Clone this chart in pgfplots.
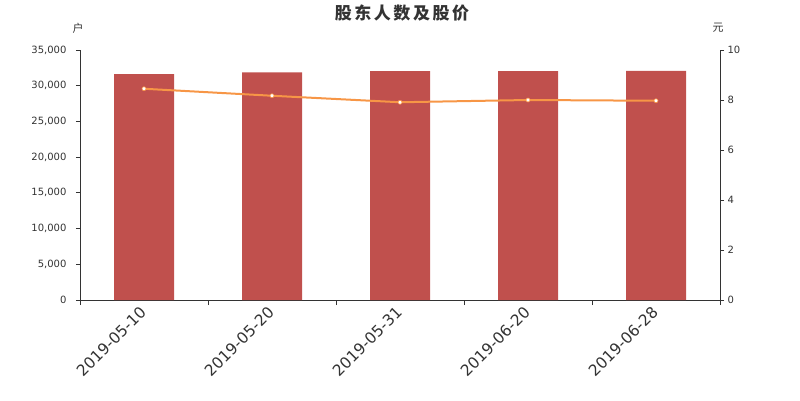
\documentclass[border=0pt]{standalone}
\usepackage{fontspec}
\setmainfont{DejaVu Sans}
\newfontfamily\cjk{Noto Sans CJK SC}
\newfontfamily\cjktitle{Noto Sans CJK SC}[LetterSpace=15]
\usepackage{pgfplots}
\pgfplotsset{compat=1.18}
\definecolor{barred}{HTML}{C0504D}
\definecolor{lineor}{HTML}{F79646}
\definecolor{txt}{HTML}{333333}
\begin{document}
\begin{tikzpicture}
\path[use as bounding box] (0,0) rectangle (800pt,400pt);
\begin{axis}[
  at={(80pt,100pt)}, anchor=south west,
  scale only axis, width=640pt, height=250pt,
  xmin=-0.5, xmax=4.5, ymin=0, ymax=35000,
  axis y line*=left, axis x line*=bottom,
  axis line style={draw=txt, line width=0.8pt, -},
  tick align=outside,
  major tick length=4pt, minor tick length=5pt,
  tick style={draw=txt, line width=0.8pt},
  xtick={0,1,2,3,4},
  xticklabels={2019-05-10,2019-05-20,2019-05-31,2019-06-20,2019-06-28},
  major x tick style={draw=none},
  minor xtick={-0.5,0.5,1.5,2.5,3.5,4.5},
  ytick={0,5000,...,35000},
  scaled y ticks=false,
  yticklabel style={/pgf/number format/1000 sep={,}, /pgf/number format/assume math mode=true},
  y tick label style={font=\fontsize{10}{12}\selectfont, text=txt, xshift=-6pt},
  x tick label style={xshift=-5pt, yshift=-1pt, rotate=45, anchor=north east, inner sep=0pt, font=\fontsize{15.5}{17}\selectfont, text=txt},
]
\addplot[ybar, bar width=60pt, fill=barred, draw=none] coordinates {(0,31640) (1,31880) (2,32060) (3,32060) (4,32080)};
\end{axis}
\begin{axis}[
  at={(80pt,100pt)}, anchor=south west,
  scale only axis, width=640pt, height=250pt,
  xmin=-0.5, xmax=4.5, ymin=0, ymax=10,
  axis y line*=right, axis x line=none,
  axis line style={draw=txt, line width=0.8pt, -},
  tick align=outside, major tick length=4pt,
  tick style={draw=txt, line width=0.8pt},
  ytick={0,2,...,10},
  yticklabel style={/pgf/number format/assume math mode=true},
  y tick label style={font=\fontsize{10}{12}\selectfont, text=txt},
]
\addplot[color=lineor, line width=2pt, mark=*, mark size=2pt, mark options={fill=white, draw=lineor, line width=0.6pt}] coordinates {(0,8.45) (1,8.17) (2,7.91) (3,8.00) (4,7.97)};
\end{axis}
\node[text=txt, font=\cjktitle\bfseries\fontsize{17}{20}\selectfont] at (402pt,387pt) {股东人数及股价};
\node[text=txt, font=\cjk\fontsize{11}{12}\selectfont] at (78pt,372pt) {户};
\node[text=txt, font=\cjk\fontsize{11}{12}\selectfont] at (718pt,372pt) {元};
\end{tikzpicture}
\end{document}
